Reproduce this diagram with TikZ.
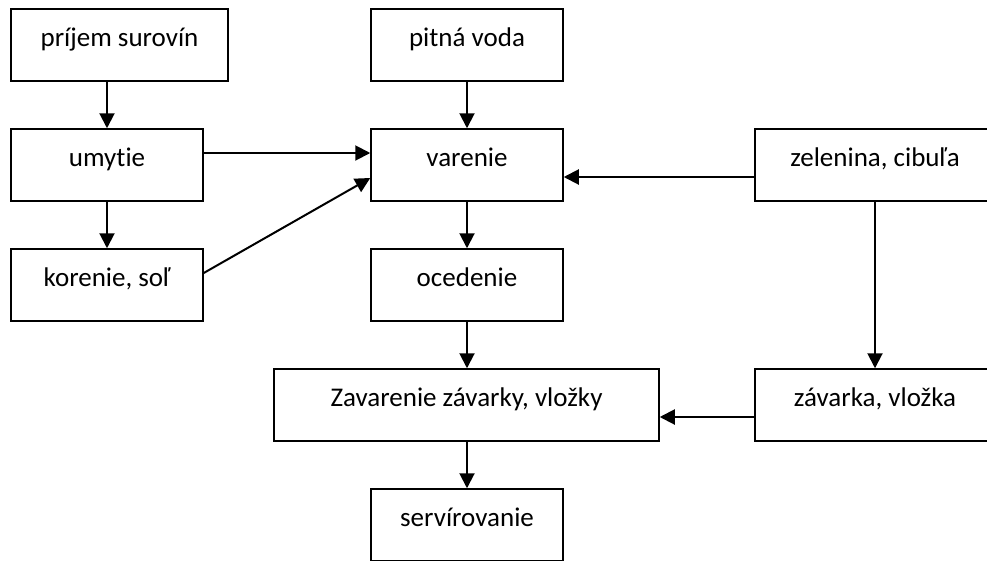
\documentclass[tikz,border=0pt]{standalone}
\usepackage{fontspec}
\setmainfont[Ligatures=NoCommon]{Carlito}
\usetikzlibrary{arrows.meta}
\begin{document}
\begin{tikzpicture}[x=1pt,y=-1pt,
  box/.style={draw, line width=1.5pt, inner xsep=0pt, inner ysep=0pt,
    text height=37pt, text depth=35pt, minimum height=72pt,
    font=\fontsize{27}{31}\selectfont},
  arr/.style={line width=2pt, -{Triangle[length=15pt,width=15pt]}}]
\useasboundingbox (0,0) rectangle (987,560);
\clip (0,0) rectangle (987,560);
% process boxes
\node[box, minimum width=217pt] (prijem)   at (119.5,45)  {príjem surovín};
\node[box, minimum width=192pt] (umytie)   at (107,165)   {umytie};
\node[box, minimum width=192pt] (korenie)  at (107,285)   {korenie, soľ};
\node[box, minimum width=192pt] (pitna)    at (467,45)    {pitná voda};
\node[box, minimum width=192pt] (varenie)  at (467,165)   {varenie};
\node[box, minimum width=192pt] (ocedenie) at (467,285)   {ocedenie};
\node[box, minimum width=240pt] (zelenina) at (875,165)   {zelenina, cibuľa};
\node[box, minimum width=240pt] (zavarka)  at (875,405)   {závarka, vložka};
\node[box, minimum width=385pt] (zavarenie) at (466.5,405) {Zavarenie závarky, vložky};
\node[box, minimum width=192pt] (servir)   at (467,525)   {servírovanie};
% connectors
\draw[arr] (umytie.north |- prijem.south) -- (umytie.north);
\draw[arr] (umytie.south) -- (korenie.north);
\draw[arr] ([yshift=12pt]umytie.east) -- ([yshift=12pt]varenie.west);
\draw[arr] ([yshift=12pt]korenie.east) -- ([yshift=-13pt]varenie.west);
\draw[arr] (pitna.south) -- (varenie.north);
\draw[arr] ([yshift=-12pt]zelenina.west) -- ([yshift=-12pt]varenie.east);
\draw[arr] (varenie.south) -- (ocedenie.north);
\draw[arr] (ocedenie.south) -- (zavarenie.north -| ocedenie.south);
\draw[arr] (zelenina.south) -- (zavarka.north);
\draw[arr] ([yshift=-12pt]zavarka.west) -- ([yshift=-12pt]zavarenie.east);
\draw[arr] (zavarenie.south -| servir.north) -- (servir.north);
\end{tikzpicture}
\end{document}
